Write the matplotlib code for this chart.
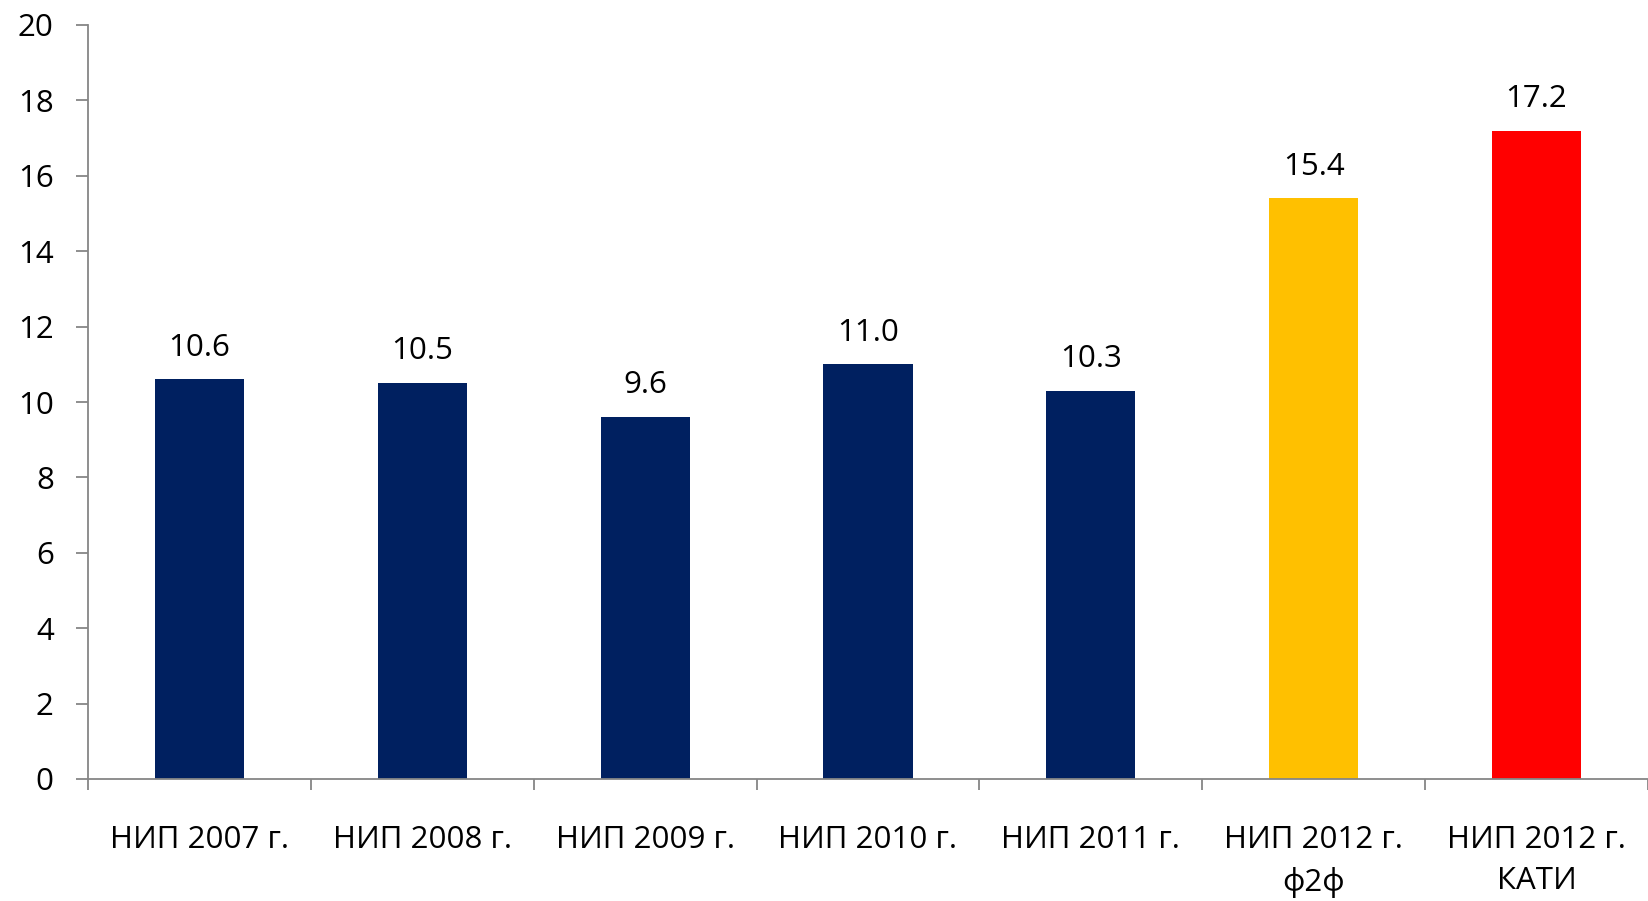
import matplotlib.pyplot as plt
import numpy as np

plt.rcParams['font.family'] = ['Open Sans', 'DejaVu Sans']

labels = ["НИП 2007 г.", "НИП 2008 г.", "НИП 2009 г.", "НИП 2010 г.",
          "НИП 2011 г.", "НИП 2012 г.\nф2ф", "НИП 2012 г.\nКАТИ"]
values = [10.6, 10.5, 9.6, 11.0, 10.3, 15.4, 17.2]
colors = ["#002060"] * 5 + ["#FFC000", "#FF0000"]

fig = plt.figure(figsize=(16.48, 9.01), dpi=100)
ax = fig.add_axes([88 / 1648, 1 - 779 / 901, 1 - 88 / 1648, (779 - 25) / 901])

x = np.arange(len(values))
ax.bar(x, values, width=0.40, color=colors, zorder=2)

for xi, v in zip(x, values):
    ax.annotate(f"{v:.1f}", (xi, v), xytext=(0, 12), textcoords="offset points",
                ha="center", va="bottom", fontsize=22.5)

ax.set_xlim(-0.5, len(values) - 0.5)
ax.set_ylim(0, 20)
ax.set_yticks(range(0, 21, 2))
ax.tick_params(axis="y", labelsize=22.5, length=8.6, width=1.3, color="#868686", pad=16)

ax.set_xticks(x)
ax.set_xticklabels(labels, fontsize=22.5, linespacing=1.5, va="top")
ax.set_xticks(np.arange(-0.5, len(values), 1.0), minor=True)
ax.tick_params(axis="x", which="major", length=0, pad=33)
ax.tick_params(axis="x", which="minor", length=8, width=1.3, color="#868686")

for s in ["top", "right"]:
    ax.spines[s].set_visible(False)
for s in ["left", "bottom"]:
    ax.spines[s].set_color("#868686")
    ax.spines[s].set_linewidth(1.3)

fig.savefig("out.png", dpi=100)
